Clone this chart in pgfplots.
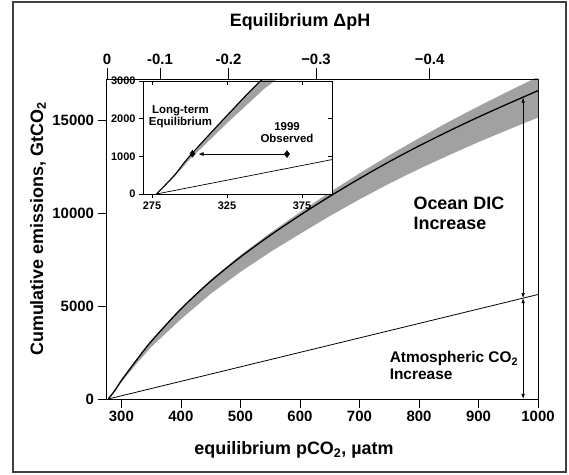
\documentclass[border=0pt]{standalone}
\usepackage{fontspec}
\setmainfont{Liberation Sans}
\usepackage{pgfplots}
\usepackage{pgfplotstable}
\pgfplotsset{compat=1.18}
\usetikzlibrary{arrows.meta}

\definecolor{band}{gray}{0.63}

% equilibrium curve (pCO2, cumulative emissions)
\pgfplotstableread{
p     E
278   0
290   500
300   1000
325   2080
350   3100
400   4850
450   6350
500   7650
550   8820
600   9900
650   10920
700   11880
750   12790
800   13640
850   14440
900   15200
950   15920
1000  16620
}\curve

% uncertainty band outline: upper edge, then lower edge back
\pgfplotstableread{
p     E
278   0
290   510
300   1020
325   2110
350   3140
400   4900
450   6420
500   7750
550   8950
600   10070
650   11140
700   12160
750   13140
800   14060
850   14940
900   15780
950   16580
1000  17370
1000  15170
950   14520
900   13850
850   13140
800   12400
750   11610
700   10760
650   9860
600   8900
550   7920
500   6850
450   5670
400   4300
350   2800
325   1880
300   910
290   460
278   0
}\band

\begin{document}
\begin{tikzpicture}[x=1bp,y=1bp,font=\bfseries]
\useasboundingbox (0,0) rectangle (569,475);
\draw[line width=1.4bp, black!75] (13,3) rectangle (566,473);

% main axis
\begin{axis}[
    at={(106.5bp,76bp)}, anchor=south west, scale only axis,
    width=431.5bp, height=320bp,
    xmin=275, xmax=1000, ymin=0, ymax=17250,
    xtick={300,400,...,1000}, ytick={0,5000,10000,15000},
    xtick pos=bottom, ytick pos=left, tick align=outside,
    major tick length=9bp,
    tick style={black, line width=0.8bp},
    axis line style={line width=0.8bp},
    ticklabel style={font=\fontsize{15}{15}\selectfont\bfseries},
    /pgf/number format/1000 sep={},
    /pgf/number format/assume math mode=true,
    scaled ticks=false,
]
\addplot[fill=band, draw=none] table[x=p, y=E] {\band} -- cycle;
\addplot[black, line width=1.3bp, smooth] table[x=p, y=E] {\curve};
\addplot[black, line width=0.8bp] coordinates {(278,0) (1000,5632)};
\addplot[black, line width=0.6bp, {Latex[length=5bp,width=3.5bp]}-{Latex[length=5bp,width=3.5bp]}]
    coordinates {(975,16250) (975,5440)};
\addplot[black, line width=0.6bp, {Latex[length=5bp,width=3.5bp]}-{Latex[length=5bp,width=3.5bp]}]
    coordinates {(975,5440) (975,0)};
\node[anchor=west, align=left, font=\fontsize{18}{20}\selectfont\bfseries]
    at (axis cs:785,10000) {Ocean DIC\\Increase};
\node[anchor=west, align=left, font=\fontsize{15.5}{17}\selectfont\bfseries]
    at (axis cs:745,1800) {Atmospheric CO\textsubscript{2}\\Increase};
\end{axis}

% top pH axis
\begin{axis}[
    at={(106.5bp,76bp)}, anchor=south west, scale only axis,
    width=431.5bp, height=320bp,
    xmin=275, xmax=1000, ymin=0, ymax=1,
    axis x line*=top, axis y line=none,
    xtick={276,365,480,627,818},
    xticklabels={0,-0.1,-0.2,−0.3,−0.4},
    tick align=outside, major tick length=11bp,
    tick style={black, line width=0.8bp},
    axis line style={line width=0.8bp},
    ticklabel style={font=\fontsize{15}{15}\selectfont\bfseries},
]
\end{axis}

% inset
\begin{axis}[
    at={(143bp,281bp)}, anchor=south west, scale only axis,
    width=189bp, height=113bp,
    xmin=269, xmax=395, ymin=0, ymax=3000,
    xtick={275,325,375}, ytick={0,1000,2000,3000},
    tick align=outside, major tick length=4bp,
    xtick pos=bottom, ytick pos=left,
    tick style={black, line width=0.7bp},
    axis line style={line width=0.8bp},
    axis background/.style={fill=white},
    ticklabel style={font=\fontsize{11}{11}\selectfont\bfseries},
    /pgf/number format/1000 sep={},
    /pgf/number format/assume math mode=true,
    scaled ticks=false,
]
\addplot[fill=band, draw=none] table[x=p, y=E] {\band} -- cycle;
\addplot[black, line width=1.1bp, smooth] table[x=p, y=E] {\curve};
\addplot[black, line width=0.7bp] coordinates {(278,0) (395,913)};
\addplot[black, line width=0.7bp, -{Latex[length=5bp,width=4bp]}]
    coordinates {(365,1060) (306,1060)};
\addplot[only marks, mark=diamond*, mark size=3.5bp, black] coordinates {(365,1060) (302,1070)};
\node[align=center, font=\fontsize{11.5}{12}\selectfont\bfseries]
    at (axis cs:294,2050) {Long-term\\Equilibrium};
\node[align=center, font=\fontsize{11.5}{12}\selectfont\bfseries]
    at (axis cs:365,1620) {1999\\Observed};
\end{axis}

% inset: inward ticks on top and right
\begin{axis}[
    at={(143bp,281bp)}, anchor=south west, scale only axis,
    width=189bp, height=113bp,
    xmin=269, xmax=395, ymin=0, ymax=3000,
    xtick={275,325,375}, ytick={0,1000,2000,3000},
    xtick pos=top, ytick pos=right, tick align=inside,
    major tick length=4bp,
    xticklabels={}, yticklabels={},
    tick style={black, line width=0.7bp},
    axis line style={line width=0.8bp},
]
\end{axis}

\node[font=\fontsize{18}{18}\selectfont\bfseries] at (300,453) {Equilibrium ΔpH};
\node[font=\fontsize{18}{18}\selectfont\bfseries] at (294,25) {equilibrium pCO\textsubscript{2}, µatm};
\node[rotate=90, font=\fontsize{18}{18}\selectfont\bfseries] at (38,246) {Cumulative emissions, GtCO\textsubscript{2}};
\end{tikzpicture}
\end{document}
